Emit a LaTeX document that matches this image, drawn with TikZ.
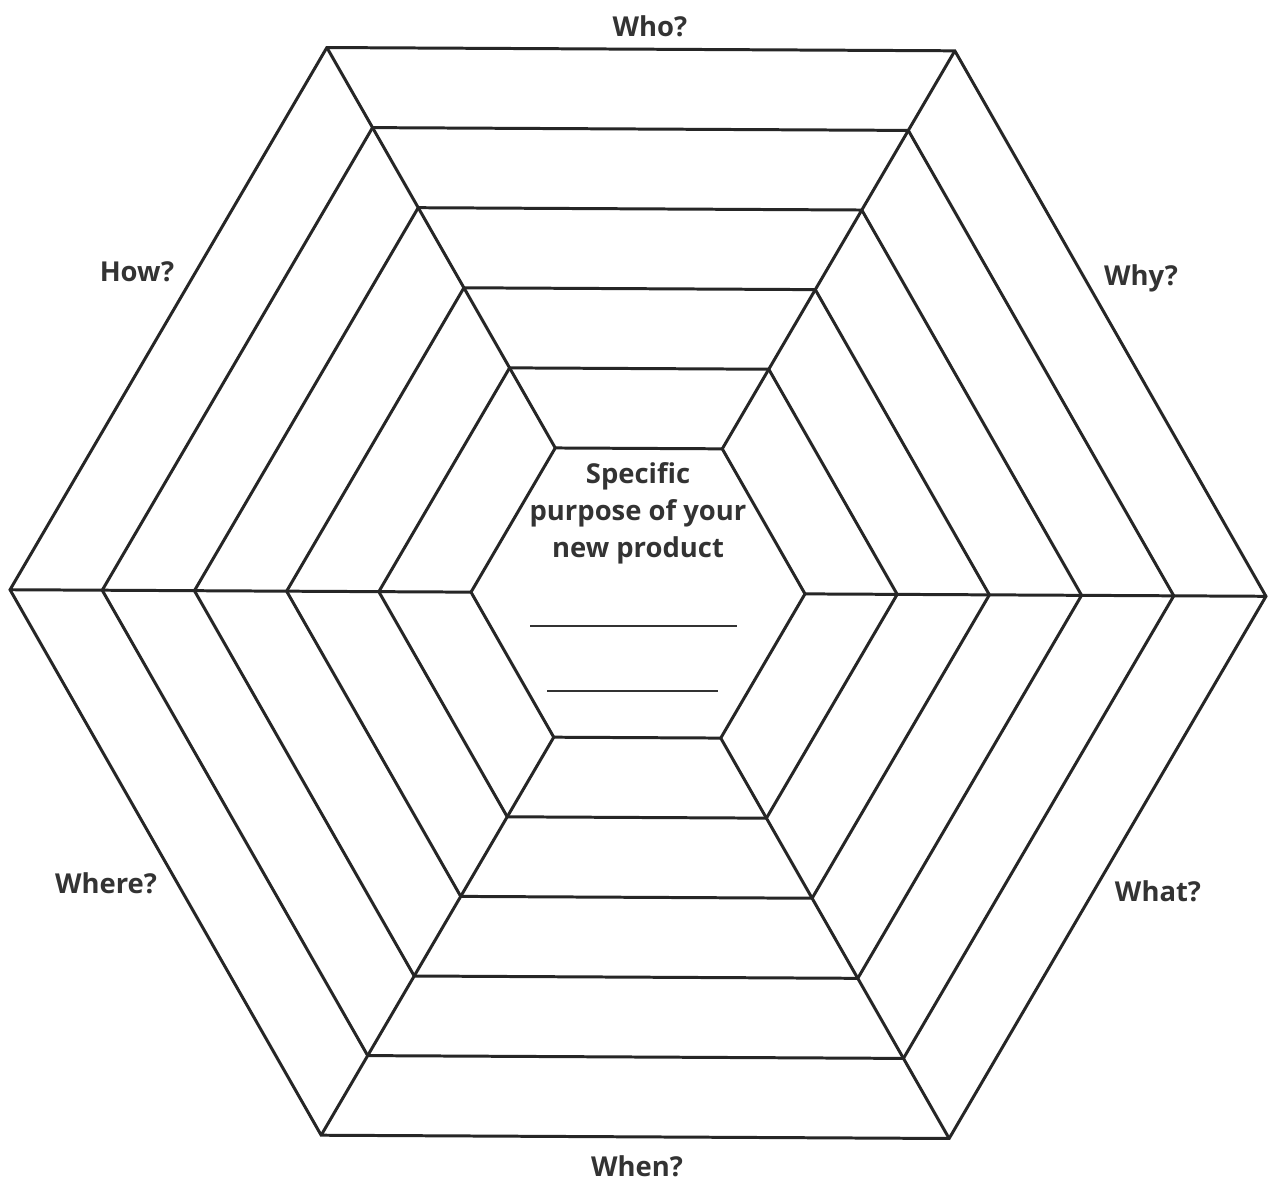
\documentclass[tikz,border=0pt]{standalone}
\usepackage{fontspec}
\setmainfont{Open Sans}
\newfontfamily\lblfont{Open Sans}
\usetikzlibrary{calc}
\begin{document}
\begin{tikzpicture}[x=0.02cm,y=-0.02cm,
  web/.style={line width=1.7pt, draw=black!85, line join=miter},
  lbl/.style={font=\lblfont\bfseries\fontsize{15.6}{21}\selectfont, text=black!80, inner sep=0pt, anchor=base},
  blankline/.style={line width=0.6pt, draw=black!80}]
\useasboundingbox[fill=white] (0,0) rectangle (1270,1184);
\coordinate (c) at (638,593);
\foreach \k in {0,...,5}{
  \pgfmathsetmacro\R{167+92.2*\k}
  \foreach \j in {0,...,5}{
    \pgfmathsetmacro\a{\j*60+0.3}
    \coordinate (h\k-\j) at ($(c)+(\a:\R)$);
  }
}
% spokes
\foreach \j in {0,...,5}{
  \draw[web] (h0-\j) -- (h5-\j);
}
% hexagons
\foreach \k in {0,...,5}{
  \draw[web] (h\k-0) -- (h\k-1) -- (h\k-2) -- (h\k-3) -- (h\k-4) -- (h\k-5) -- cycle;
}
% labels
\node[lbl] (who) at (650,36) {Who?};
\node[lbl] (why) at (1141,285) {Why?};
\node[lbl] (what) at (1158,901) {What?};
\node[lbl] (when) at (637,1176) {When?};
\node[lbl] (where) at (106,893) {Where?};
\node[lbl] (how) at (137,281) {How?};
% centre text
\node[lbl] (t1) at (638,483) {Specific};
\node[lbl] (t2) at (638,520) {purpose of your};
\node[lbl] (t3) at (638,557) {new product};
\coordinate (b1a) at (530,626);
\coordinate (b1b) at (737,626);
\coordinate (b2a) at (547,691);
\coordinate (b2b) at (718,691);
\draw[blankline] (b1a) -- (b1b);
\draw[blankline] (b2a) -- (b2b);
\end{tikzpicture}
\end{document}
